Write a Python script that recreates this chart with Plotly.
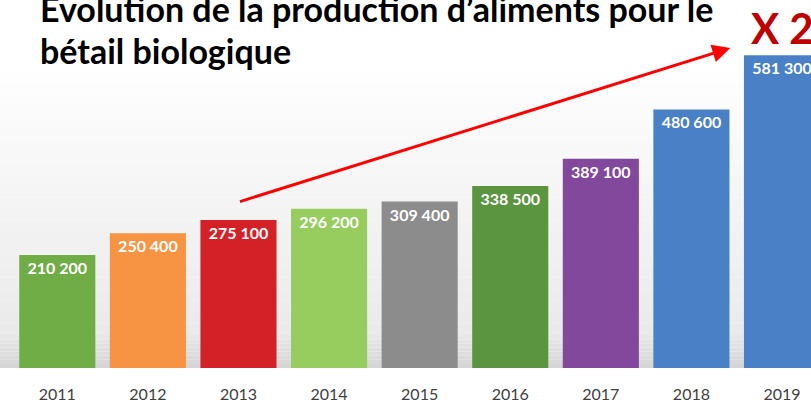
import plotly.graph_objects as go

years = ["2011", "2012", "2013", "2014", "2015", "2016", "2017", "2018", "2019"]
values = [210200, 250400, 275100, 296200, 309400, 338500, 389100, 480600, 581300]
bar_colors = ["#70ad47", "#f79443", "#d42027", "#96cd5e", "#8c8c8c",
              "#5b9540", "#81489b", "#4a80c6", "#4a80c6"]
labels = [f"{v:,}".replace(",", " ") for v in values]

W, H = 811, 402
ML, MR, MT, MB = 12, 0, 40, 34
plot_h = H - MT - MB

def ypaper(pix):
    return (H - MB - pix) / plot_h

fig = go.Figure()
fig.add_trace(go.Bar(
    x=years, y=values,
    marker=dict(color=bar_colors, line=dict(width=0)),
    text=labels, textposition="inside", insidetextanchor="end",
    constraintext="none",
    textfont=dict(family="Lato", size=16, color="white", weight="bold"),
    hoverinfo="skip",
))

# background gradient (decorative)
shapes = []
n = 24
top_pix, bot_pix = 60, 335
for i in range(n):
    p0 = top_pix + (bot_pix - top_pix) * i / n
    p1 = top_pix + (bot_pix - top_pix) * (i + 1) / n
    t = (i + 0.5) / n
    c = int(round(255 - (255 - 234) * t))
    shapes.append(dict(type="rect", xref="paper", yref="paper", layer="below",
                       x0=-0.02, x1=1.02, y0=ypaper(p1), y1=ypaper(p0),
                       fillcolor=f"rgb({c},{c},{c})", line=dict(width=0)))
m = 8
for i in range(m):
    p0 = bot_pix + (368 - bot_pix) * i / m
    p1 = bot_pix + (368 - bot_pix) * (i + 1) / m
    t = (i + 0.5) / m
    c = int(round(232 - (232 - 212) * t))
    shapes.append(dict(type="rect", xref="paper", yref="paper", layer="below",
                       x0=-0.02, x1=1.02, y0=ypaper(p1), y1=ypaper(p0),
                       fillcolor=f"rgb({c},{c},{c})", line=dict(width=0)))

annotations = [
    dict(text="Evolution de la production d’aliments pour le", xref="paper", yref="paper",
         x=(38 - ML) / (W - ML - MR), y=ypaper(-14), xanchor="left", yanchor="top",
         showarrow=False, font=dict(family="Lato", size=34, color="black", weight="bold")),
    dict(text="bétail biologique", xref="paper", yref="paper",
         x=(38 - ML) / (W - ML - MR), y=ypaper(28), xanchor="left", yanchor="top",
         showarrow=False, font=dict(family="Lato", size=34, color="black", weight="bold")),
    dict(text="X 2", xref="paper", yref="paper",
         x=(749 - ML) / (W - ML - MR), y=ypaper(1), xanchor="left", yanchor="top",
         showarrow=False, font=dict(family="Lato", size=42, color="#c00000", weight="bold")),
    dict(text="", x=7.43, y=594800, ax=2.0, ay=308500, xref="x", yref="y",
         axref="x", ayref="y", showarrow=True, arrowhead=2, arrowsize=1.2,
         arrowwidth=3, arrowcolor="#ff0000"),
]

fig.update_layout(
    width=W, height=H,
    margin=dict(l=ML, r=MR, t=MT, b=MB),
    paper_bgcolor="white", plot_bgcolor="rgba(0,0,0,0)",
    bargap=0.16, showlegend=False,
    shapes=shapes, annotations=annotations,
    xaxis=dict(range=[-0.5, 8.32], showgrid=False, zeroline=False, showline=False,
               ticks="", ticklabelstandoff=15,
               tickfont=dict(family="Lato", size=16, color="#404040")),
    yaxis=dict(range=[0, 609700], visible=False, showgrid=False, zeroline=False),
)

fig.write_html("out.html", config={"displayModeBar": False},
               post_script="document.body.style.margin='0';document.body.style.overflow='hidden';")
